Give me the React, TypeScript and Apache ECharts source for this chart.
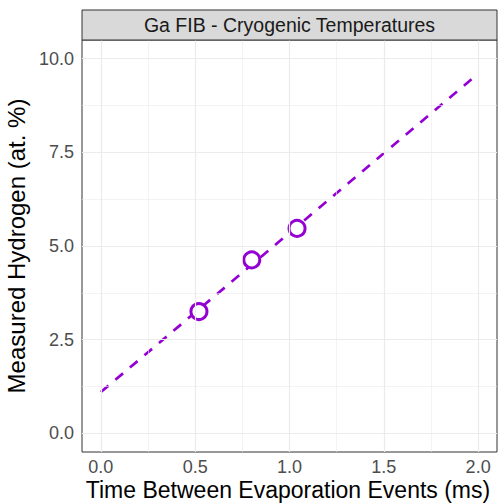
import React, { useEffect, useRef } from "react";
import * as echarts from "echarts";

const stripTitle = "Ga FIB - Cryogenic Temperatures";
const xTitle = "Time Between Evaporation Events (ms)";
const yTitle = "Measured Hydrogen (at. %)";

const timeMs = [0.52, 0.8, 1.04];
const hydrogen = [3.25, 4.63, 5.47];

const fitX = [0, 2];
const fitY = [1.1, 9.6];

const xTicks = [0, 0.5, 1, 1.5, 2];
const yTicks = [0, 2.5, 5, 7.5, 10];
const xMinor = [0.25, 0.75, 1.25, 1.75];
const yMinor = [1.25, 3.75, 6.25, 8.75];

const PURPLE = "#9400D3";
const FONT = "Liberation Sans, Arial, sans-serif";

export default function App() {
  const ref = useRef<HTMLDivElement>(null);
  useEffect(() => {
    if (!ref.current) return;
    const chart = echarts.init(ref.current, undefined, { renderer: "svg" });
    const L = 82, R = 7, T = 40, B = 51;
    const W = 504;
    const gridLine = (vals: number[], axis: "xAxis" | "yAxis", width: number) =>
      vals.map((v) => ({ [axis]: v, lineStyle: { color: "#EBEBEB", width, type: "solid" } }));
    chart.setOption({
      animation: false,
      backgroundColor: "#FFFFFF",
      textStyle: { fontFamily: FONT },
      grid: {
        left: L, right: R, top: T, bottom: B,
        containLabel: false,
        outerBoundsMode: "none",
        show: true, borderColor: "#333333", borderWidth: 1, backgroundColor: "transparent",
      },
      xAxis: {
        type: "value",
        min: -0.1,
        max: 2.1,
        axisLine: { show: false },
        axisTick: { show: true, customValues: xTicks, length: 4, lineStyle: { color: "#333333", width: 1 } },
        axisLabel: {
          customValues: xTicks,
          formatter: (v: number) => v.toFixed(1),
          fontSize: 18,
          color: "#4D4D4D",
          margin: 5.5,
          fontFamily: FONT,
        },
        splitLine: { show: false },
      },
      yAxis: {
        type: "value",
        min: -0.5,
        max: 10.5,
        name: yTitle,
        nameLocation: "middle",
        nameGap: 52,
        nameTextStyle: { fontSize: 24, color: "#000000", fontFamily: FONT },
        axisLine: { show: false },
        axisTick: { show: true, customValues: yTicks, length: 4, lineStyle: { color: "#333333", width: 1 } },
        axisLabel: {
          customValues: yTicks,
          formatter: (v: number) => v.toFixed(1),
          fontSize: 18,
          color: "#4D4D4D",
          margin: 8,
          fontFamily: FONT,
        },
        splitLine: { show: false },
      },
      graphic: [
        {
          type: "rect",
          shape: { x: L, y: 10, width: W - L - R, height: T - 10 },
          style: { fill: "#D9D9D9", stroke: "#333333", lineWidth: 1 },
          z: 10,
        },
        {
          type: "text",
          x: L + (W - L - R) / 2,
          y: 25,
          style: { text: stripTitle, fill: "#1A1A1A", fontSize: 19.5, fontFamily: FONT, align: "center", verticalAlign: "middle" },
          z: 11,
        },
        {
          type: "text",
          x: 288,
          y: 490,
          style: { text: xTitle, fill: "#000000", fontSize: 23, fontFamily: FONT, align: "center", verticalAlign: "middle" },
          z: 11,
        },
      ],
      series: [
        {
          type: "line",
          data: [],
          z: 1,
          silent: true,
          markLine: {
            silent: true,
            symbol: "none",
            label: { show: false },
            animation: false,
            data: [
              ...gridLine(xMinor, "xAxis", 0.6),
              ...gridLine(yMinor, "yAxis", 0.6),
              ...gridLine(xTicks, "xAxis", 1.2),
              ...gridLine(yTicks, "yAxis", 1.2),
            ],
          },
        },
        {
          type: "line",
          data: fitX.map((x, i) => [x, fitY[i]]),
          showSymbol: false,
          symbol: "none",
          z: 3,
          lineStyle: { color: PURPLE, width: 2.7, type: [10, 9] },
        },
        {
          type: "scatter",
          data: timeMs.map((x, i) => [x, hydrogen[i]]),
          symbol: "circle",
          symbolSize: 16,
          z: 4,
          itemStyle: { color: "#FFFFFF", opacity: 1, borderColor: PURPLE, borderWidth: 3 },
        },
      ],
    });
    return () => chart.dispose();
  }, []);
  return <div ref={ref} style={{ width: 504, height: 503, position: "absolute", left: 0, top: 0 }} />;
}
